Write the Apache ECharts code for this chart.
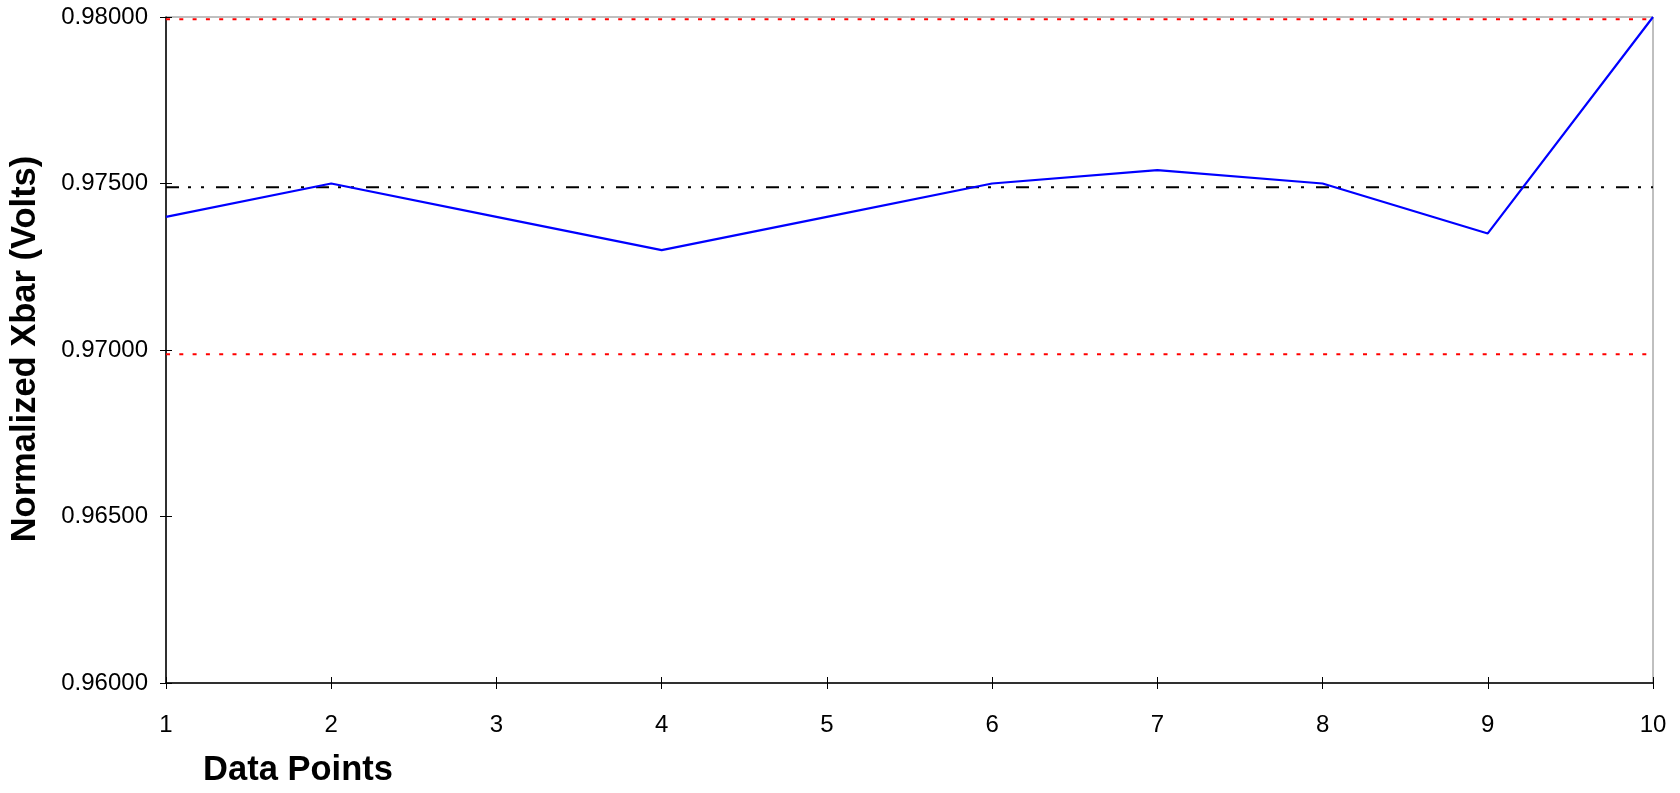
<!DOCTYPE html>
<html>
<head>
<meta charset="utf-8">
<title>Normalized Xbar Control Chart</title>
<script src="https://cdn.jsdelivr.net/npm/echarts@6/dist/echarts.min.js"></script>
<style>
  html, body { margin: 0; padding: 0; background: #ffffff; }
  #chart { width: 1680px; height: 793px; }
</style>
</head>
<body>
<div id="chart"></div>
<script>
// Sample numbers along the x axis
const categories = ['1', '2', '3', '4', '5', '6', '7', '8', '9', '10'];

// Normalized Xbar per sample (volts)
const xbarValues = [0.9740, 0.9750, 0.9740, 0.9730, 0.9740, 0.9750, 0.9754, 0.9750, 0.9735, 0.9800];

// Control limits and centre line (volts)
const uclValues = [0.97993, 0.97993, 0.97993, 0.97993, 0.97993, 0.97993, 0.97993, 0.97993, 0.97993, 0.97993];
const centerValues = [0.97489, 0.97489, 0.97489, 0.97489, 0.97489, 0.97489, 0.97489, 0.97489, 0.97489, 0.97489];
const lclValues = [0.96987, 0.96987, 0.96987, 0.96987, 0.96987, 0.96987, 0.96987, 0.96987, 0.96987, 0.96987];

// Value axis ticks
const yTicks = { min: 0.96, max: 0.98, interval: 0.005 };

const FONT = '"Liberation Sans", Arial, Helvetica, sans-serif';

const chart = echarts.init(document.getElementById('chart'), null, { renderer: 'canvas' });

const tickOut = { show: true, inside: false, length: 6, lineStyle: { color: '#000', width: 1 } };
const tickIn = { show: true, inside: true, length: 6, lineStyle: { color: '#000', width: 1 } };

const option = {
  animation: false,
  backgroundColor: '#ffffff',
  grid: {
    left: 166, right: 27, top: 17, bottom: 110,
    show: true, borderColor: '#808080', borderWidth: 1, backgroundColor: 'transparent'
  },
  xAxis: [
    {
      type: 'category', data: categories, boundaryGap: false, position: 'bottom',
      axisLine: { show: true, lineStyle: { color: '#000', width: 1.5 } },
      axisTick: tickOut,
      axisLabel: { color: '#000', fontSize: 24, fontFamily: FONT, margin: 30 },
      splitLine: { show: false }
    },
    {
      type: 'category', data: categories, boundaryGap: false, position: 'bottom',
      axisLine: { show: false }, axisTick: tickIn,
      axisLabel: { show: false }, splitLine: { show: false }
    }
  ],
  yAxis: [
    {
      type: 'value', min: yTicks.min, max: yTicks.max, interval: yTicks.interval, position: 'left',
      axisLine: { show: true, lineStyle: { color: '#000', width: 1.5 } },
      axisTick: tickOut,
      axisLabel: {
        color: '#000', fontSize: 24, fontFamily: FONT, margin: 18,
        formatter: v => v.toFixed(5)
      },
      splitLine: { show: false }
    },
    {
      type: 'value', min: yTicks.min, max: yTicks.max, interval: yTicks.interval, position: 'left',
      axisLine: { show: false }, axisTick: tickIn,
      axisLabel: { show: false }, splitLine: { show: false }
    }
  ],
  series: [
    {
      name: 'UCL', type: 'line', data: uclValues, symbol: 'none', silent: true,
      lineStyle: { color: '#ff0000', width: 2, type: [4, 9.3] }, z: 2
    },
    {
      name: 'LCL', type: 'line', data: lclValues, symbol: 'none', silent: true,
      lineStyle: { color: '#ff0000', width: 2, type: [4, 9.3] }, z: 2
    },
    {
      name: 'Centre', type: 'line', data: centerValues, symbol: 'none', silent: true,
      lineStyle: { color: '#000000', width: 2, type: [13, 9, 3, 10, 3, 12] }, z: 3
    },
    {
      name: 'Xbar', type: 'line', data: xbarValues, symbol: 'none',
      lineStyle: { color: '#0000ff', width: 2.2 }, z: 4
    }
  ],
  graphic: [
    {
      type: 'text', x: 25, y: 349, rotation: Math.PI / 2,
      style: {
        text: 'Normalized Xbar (Volts)', fill: '#000',
        font: 'bold 34.5px ' + FONT, align: 'center', verticalAlign: 'middle'
      }
    },
    {
      type: 'text', x: 298, y: 770,
      style: {
        text: 'Data Points', fill: '#000',
        font: 'bold 34.5px ' + FONT, align: 'center', verticalAlign: 'middle'
      }
    }
  ]
};

chart.setOption(option);
</script>
</body>
</html>
